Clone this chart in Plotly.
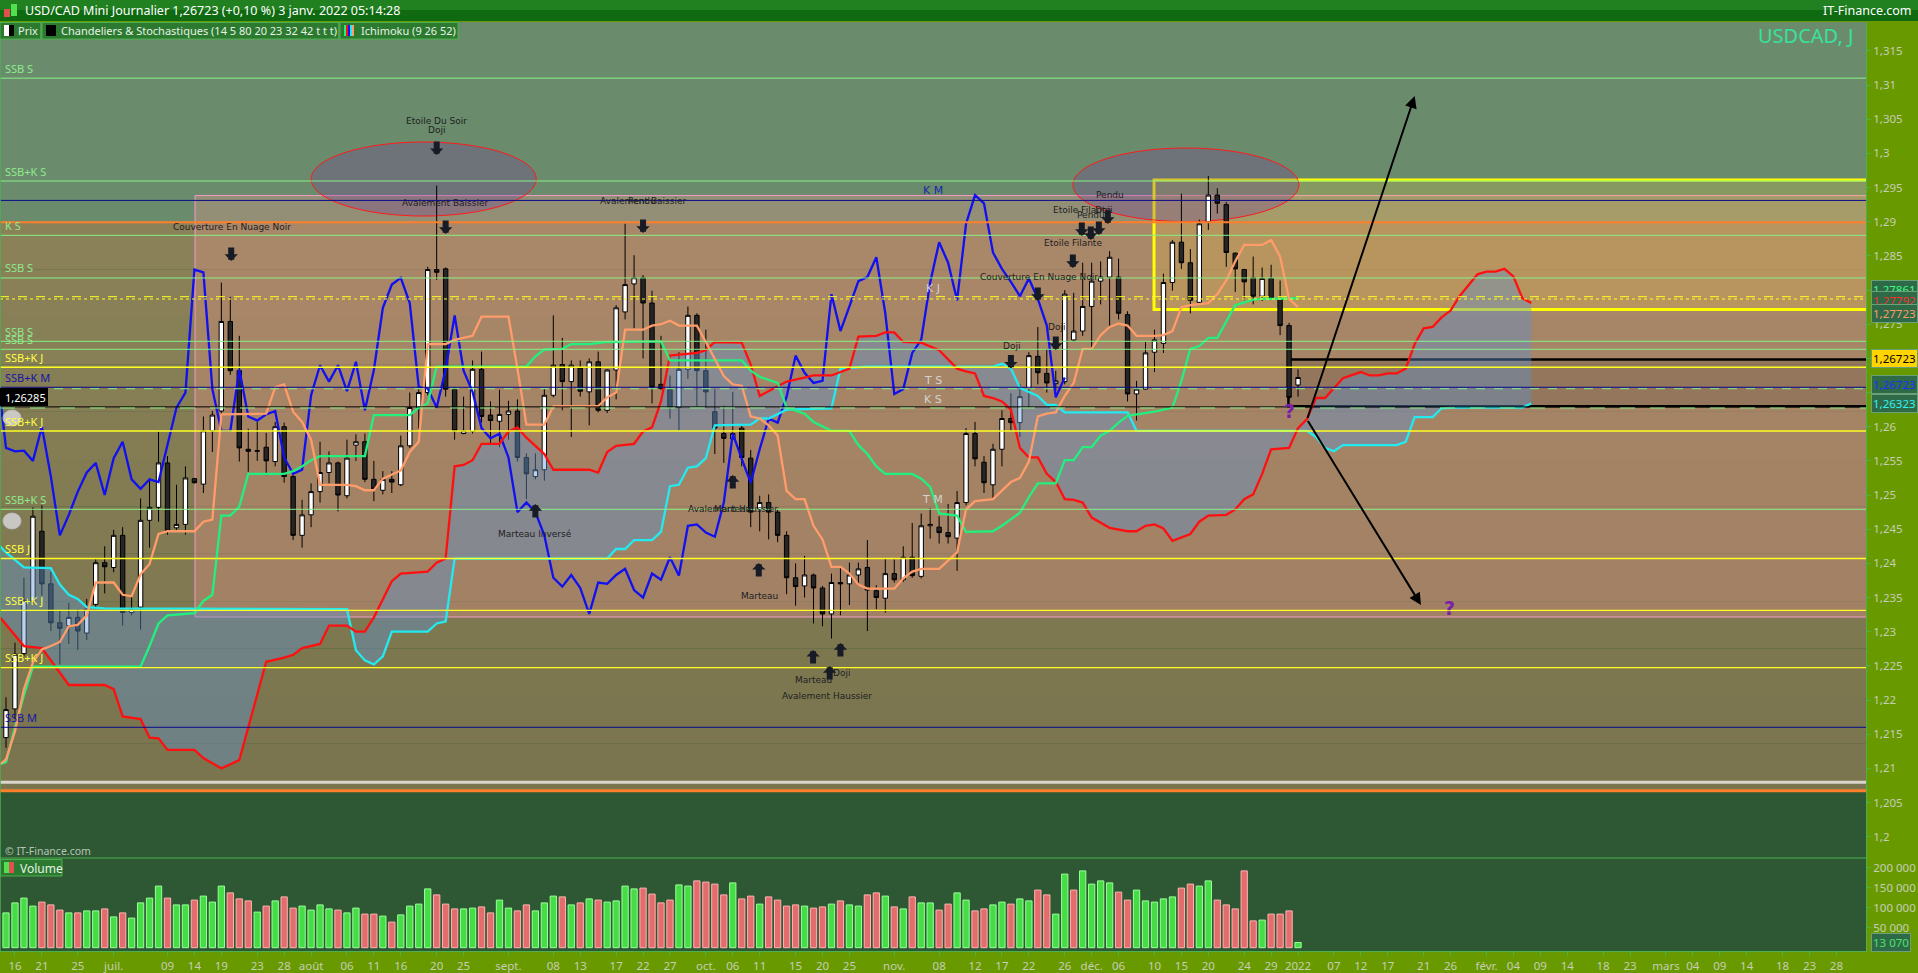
import plotly.graph_objects as go

# ------------------------------------------------------------------ data
# trading-day index: -1 = 15 juin 2021, 0 = 16 juin 2021 ... 143 = 3 janv. 2022
day_index = list(range(-1, 144))

opens = [1.2145,1.2187,1.2268,1.2345,1.2447,1.2370,1.2313,1.2309,1.2321,1.2298,
         1.2340,1.2401,1.2394,1.2441,1.2328,1.2336,1.2463,1.2482,1.2547,1.2452,
         1.2457,1.2524,1.2516,1.2594,1.2623,1.2754,1.2682,1.2567,1.2564,1.2570,
         1.2549,1.2600,1.2527,1.2441,1.2471,1.2505,1.2533,1.2547,1.2499,1.2573,
         1.2578,1.2523,1.2507,1.2523,1.2515,1.2572,1.2628,1.2650,1.2830,1.2831,
         1.2655,1.2590,1.2593,1.2684,1.2617,1.2608,1.2618,1.2623,1.2555,1.2527,
         1.2537,1.2646,1.2691,1.2666,1.2686,1.2651,1.2695,1.2624,1.2683,1.2768,
         1.2809,1.2818,1.2781,1.2662,1.2655,1.2628,1.2684,1.2763,1.2682,1.2622,
         1.2590,1.2582,1.2598,1.2554,1.2479,1.2489,1.2475,1.2441,1.2379,1.2367,
         1.2383,1.2364,1.2326,1.2372,1.2370,1.2383,1.2394,1.2360,1.2349,1.2385,
         1.2376,1.2409,1.2381,1.2455,1.2453,1.2445,1.2437,1.2489,1.2590,1.2548,
         1.2515,1.2567,1.2612,1.2606,1.2656,1.2703,1.2678,1.2663,1.2666,1.2727,
         1.2740,1.2776,1.2813,1.2819,1.2819,1.2764,1.2648,1.2655,1.2709,1.2722,
         1.2811,1.2870,1.2840,1.2782,1.2900,1.2939,1.2925,1.2854,1.2830,1.2818,
         1.2791,1.2817,1.2787,1.2748,1.2661]
highs = [1.2204,1.2284,1.2379,1.2482,1.2485,1.2388,1.2331,1.2342,1.2333,1.2348,
         1.2406,1.2425,1.2449,1.2453,1.2352,1.2495,1.2525,1.2593,1.2557,1.2515,
         1.2542,1.2525,1.2615,1.2623,1.2811,1.2790,1.2733,1.2597,1.2607,1.2591,
         1.2607,1.2606,1.2533,1.2493,1.2517,1.2578,1.2564,1.2549,1.2581,1.2589,
         1.2590,1.2550,1.2535,1.2535,1.2587,1.2650,1.2655,1.2834,1.2953,1.2833,
         1.2658,1.2644,1.2697,1.2710,1.2637,1.2654,1.2638,1.2640,1.2561,1.2561,
         1.2655,1.2763,1.2730,1.2697,1.2697,1.2700,1.2710,1.2684,1.2778,1.2897,
         1.2851,1.2822,1.2799,1.2733,1.2675,1.2709,1.2776,1.2766,1.2742,1.2655,
         1.2631,1.2651,1.2601,1.2566,1.2499,1.2501,1.2479,1.2447,1.2400,1.2411,
         1.2385,1.2367,1.2385,1.2395,1.2401,1.2401,1.2434,1.2368,1.2408,1.2406,
         1.2425,1.2459,1.2473,1.2481,1.2469,1.2487,1.2506,1.2598,1.2607,1.2557,
         1.2575,1.2624,1.2649,1.2662,1.2709,1.2746,1.2714,1.2682,1.2800,1.2796,
         1.2840,1.2840,1.2842,1.2857,1.2846,1.2769,1.2667,1.2724,1.2742,1.2824,
         1.2873,1.2941,1.2860,1.2903,1.2967,1.2949,1.2929,1.2855,1.2831,1.2849,
         1.2833,1.2837,1.2814,1.2752,1.2684]
lows = [1.2130,1.2172,1.2264,1.2342,1.2353,1.2301,1.2252,1.2282,1.2273,1.2288,
        1.2333,1.2356,1.2387,1.2309,1.2324,1.2303,1.2423,1.2461,1.2442,1.2447,
        1.2442,1.2517,1.2503,1.2563,1.2614,1.2676,1.2549,1.2534,1.2550,1.2529,
        1.2542,1.2518,1.2434,1.2423,1.2453,1.2489,1.2517,1.2476,1.2495,1.2550,
        1.2519,1.2491,1.2501,1.2503,1.2513,1.2569,1.2597,1.2646,1.2815,1.2644,
        1.2581,1.2589,1.2590,1.2606,1.2575,1.2570,1.2581,1.2549,1.2494,1.2523,
        1.2521,1.2643,1.2624,1.2585,1.2644,1.2602,1.2621,1.2620,1.2640,1.2757,
        1.2744,1.2700,1.2634,1.2654,1.2612,1.2594,1.2670,1.2630,1.2628,1.2560,
        1.2547,1.2581,1.2542,1.2453,1.2447,1.2435,1.2431,1.2355,1.2338,1.2350,
        1.2312,1.2308,1.2290,1.2324,1.2339,1.2367,1.2301,1.2333,1.2328,1.2372,
        1.2373,1.2379,1.2378,1.2436,1.2429,1.2429,1.2389,1.2485,1.2542,1.2503,
        1.2495,1.2542,1.2594,1.2585,1.2628,1.2662,1.2650,1.2652,1.2662,1.2724,
        1.2733,1.2715,1.2779,1.2745,1.2757,1.2637,1.2609,1.2654,1.2680,1.2708,
        1.2799,1.2831,1.2766,1.2779,1.2888,1.2912,1.2834,1.2797,1.2785,1.2779,
        1.2784,1.2786,1.2734,1.2640,1.2644]
closes = [1.2186,1.2267,1.2346,1.2469,1.2370,1.2313,1.2305,1.2321,1.2301,1.2333,
          1.2401,1.2395,1.2441,1.2328,1.2334,1.2463,1.2482,1.2547,1.2447,1.2457,
          1.2525,1.2518,1.2594,1.2617,1.2754,1.2682,1.2569,1.2564,1.2565,1.2550,
          1.2600,1.2527,1.2441,1.2471,1.2505,1.2533,1.2547,1.2500,1.2554,1.2578,
          1.2523,1.2509,1.2523,1.2519,1.2572,1.2628,1.2650,1.2830,1.2826,1.2655,
          1.2594,1.2594,1.2684,1.2615,1.2609,1.2618,1.2623,1.2555,1.2531,1.2537,
          1.2646,1.2690,1.2666,1.2690,1.2652,1.2695,1.2624,1.2683,1.2774,1.2808,
          1.2818,1.2781,1.2658,1.2656,1.2628,1.2684,1.2763,1.2682,1.2651,1.2598,
          1.2583,1.2590,1.2555,1.2475,1.2489,1.2475,1.2441,1.2379,1.2366,1.2383,
          1.2364,1.2326,1.2372,1.2370,1.2383,1.2392,1.2361,1.2350,1.2385,1.2376,
          1.2409,1.2382,1.2455,1.2457,1.2445,1.2439,1.2489,1.2590,1.2553,1.2518,
          1.2567,1.2612,1.2606,1.2644,1.2704,1.2679,1.2664,1.2667,1.2794,1.2740,
          1.2776,1.2813,1.2819,1.2848,1.2766,1.2648,1.2655,1.2708,1.2727,1.2811,
          1.2870,1.2840,1.2785,1.2897,1.2939,1.2927,1.2855,1.2831,1.2812,1.2791,
          1.2817,1.2787,1.2748,1.2643,1.2672]

volumes = [87000,112000,124000,104000,114000,107000,94000,87000,87000,92000,
           92000,97000,77000,87000,74000,112000,124000,154000,124000,107000,
           107000,119000,129000,114000,154000,137000,122000,117000,89000,104000,
           117000,127000,99000,104000,94000,107000,97000,94000,87000,99000,
           84000,84000,79000,64000,82000,104000,109000,147000,132000,109000,
           97000,97000,99000,102000,87000,119000,99000,92000,107000,92000,
           112000,129000,127000,107000,112000,122000,119000,114000,117000,154000,
           147000,149000,134000,112000,119000,157000,154000,167000,164000,159000,
           132000,162000,122000,129000,109000,127000,119000,104000,107000,104000,
           99000,102000,109000,117000,107000,104000,132000,137000,129000,102000,
           97000,127000,112000,112000,94000,109000,137000,119000,92000,97000,
           107000,114000,109000,122000,117000,144000,132000,84000,184000,144000,
           192000,159000,167000,162000,139000,119000,144000,117000,114000,122000,
           127000,149000,159000,154000,167000,119000,107000,97000,192000,67000,
           69000,84000,84000,92000,13070]
volume_dir = ("GGGGRRRGRG" "GRGRGGGGRG" "GRGGGRRRGR" "GRRGGGGRGG" "RRGRGGGGRR"
              "RGGRRGGRRG" "GGRGRGRGGG" "GRRRRGGRRR" "RGRRGRRRRG" "RRGRGGRRGR"
              "GRGGRRGGRR" "GGRGGRRGGR" "GGGGRRGGGG" "GRRGGRRRRR" "GRRRG")

# Ichimoku lines (day index, value)
tenkan = [(-1.67,1.2106),(-1,1.2113),(0,1.2154),(1,1.2216),(2,1.2255),(3,1.2274),(4,1.2279),
          (5,1.2285),(6,1.2308),(7,1.2310),(8,1.2324),(9,1.2372),(11,1.2372),(12,1.2354),
          (13,1.2352),(14,1.2384),(15,1.2399),(16,1.2443),(17,1.2447),(20,1.2447),(21,1.2461),
          (22,1.2464),(23,1.2618),(25,1.2618),(28,1.2619),(29,1.2658),(30,1.2662),(31,1.2622),
          (32,1.2607),(33,1.2581),(34,1.2515),(37,1.2515),(38,1.2513),(39,1.2507),(40,1.2507),
          (41,1.2524),(43,1.2536),(44,1.2563),(45,1.2578),(46,1.2721),(48,1.2721),(49,1.2727),
          (51,1.2733),(52,1.2761),(55,1.2761),(56,1.2685),(57,1.2603),(59,1.2603),(60,1.2630),
          (65,1.2630),(66,1.2643),(67,1.2650),(68,1.2742),(70,1.2742),(71,1.2748),(72,1.2750),
          (73,1.2755),(74,1.2748),(76,1.2748),(77,1.2724),(78,1.2700),(79,1.2674),(80,1.2662),
          (81,1.2660),(82,1.2615),(83,1.2612),(84,1.2602),(85,1.2587),(86,1.2506),(87,1.2494),
          (88,1.2494),(89,1.2455),(90,1.2435),(91,1.2395),(92,1.2395),(93,1.2385),(94,1.2369),
          (95,1.2363),(98,1.2363),(99,1.2378),(100,1.2388),(101,1.2392),(103,1.2392),
          (104,1.2404),(105,1.2416),(106,1.2479),(107,1.2491),(109,1.2494),(110,1.2506),
          (111,1.2519),(112,1.2525),(113,1.2549),(114,1.2615),(115,1.2619),(116,1.2621),
          (117,1.2645),(118,1.2664),(119,1.2714),(120,1.2714),(121,1.2734),(122,1.2746),
          (123,1.2751),(124,1.2748),(125,1.2733),(127,1.2733),(128,1.2734),(129,1.2740),
          (130,1.2775),(131,1.2778),(133,1.2781),(134,1.2794),(135,1.2814),(136,1.2842),
          (137,1.2866),(139,1.2866),(140,1.2873),(141,1.2849),(142,1.2787),(143,1.2775)]
kijun = [(-1.67,1.2106),(-1,1.2109),(0,1.2160),(1,1.2207),(2,1.2249),(14,1.2249),(15,1.2279),
         (16,1.2312),(17,1.2324),(20,1.2327),(21,1.2345),(22,1.2354),(23,1.2470),(24,1.2470),
         (25,1.2483),(26,1.2531),(30,1.2531),(31,1.2535),(32,1.2542),(33,1.2551),(34,1.2557),
         (39,1.2557),(40,1.2617),(44,1.2617),(45,1.2628),(46,1.2634),(47,1.2688),(57,1.2688),
         (58,1.2703),(59,1.2713),(61,1.2714),(62,1.2721),(64,1.2721),(66,1.2724),(72,1.2725),
         (73,1.2697),(81,1.2697),(82,1.2682),(83,1.2673),(84,1.2668),(85,1.2664),(86,1.2628),
         (88,1.2619),(89,1.2607),(91,1.2594),(93,1.2594),(94,1.2573),(95,1.2560),(96,1.2542),
         (97,1.2531),(100,1.2531),(101,1.2524),(102,1.2512),(103,1.2473),(105,1.2470),
         (106,1.2446),(109,1.2447),(110,1.2455),(111,1.2465),(112,1.2474),(113,1.2497),
         (114,1.2517),(116,1.2517),(117,1.2551),(118,1.2551),(119,1.2570),(120,1.2570),
         (121,1.2587),(122,1.2594),(123,1.2606),(124,1.2616),(125,1.2618),(126,1.2619),
         (127,1.2622),(128,1.2625),(129,1.2628),(130,1.2667),(131,1.2714),(132,1.2718),
         (133,1.2730),(134,1.2730),(135,1.2754),(136,1.2778),(138,1.2786),(139,1.2787),
         (143,1.2788)]
senkou_a = [(-1.67,1.2321),(1,1.2279),(3,1.2276),(6,1.2222),(10,1.2222),(11,1.2216),(12,1.2176),
            (14,1.2172),(15,1.2145),(16,1.2144),(17,1.2127),(20,1.2127),(21,1.2115),(23,1.2100),
            (25,1.2112),(26,1.2159),(28,1.2256),(30,1.2262),(31,1.2266),(32,1.2276),(34,1.2282),
            (35,1.2309),(37,1.2309),(38,1.2300),(39,1.2300),(40,1.2321),(42,1.2374),(43,1.2385),
            (46,1.2388),(47,1.2401),(48,1.2407),(49,1.2542),(50,1.2544),(51,1.2551),(52,1.2575),
            (54,1.2575),(55,1.2593),(56,1.2599),(57,1.2584),(59,1.2560),(60,1.2537),(64,1.2537),
            (65,1.2533),(66,1.2563),(67,1.2572),(69,1.2575),(70,1.2593),(71,1.2599),(72,1.2637),
            (73,1.2704),(76,1.2708),(77,1.2712),(78,1.2724),(81,1.2723),(82,1.2691),(83,1.2645),
            (84,1.2652),(86,1.2666),(88,1.2672),(89,1.2675),(91,1.2675),(93,1.2685),(94,1.2732),
            (96,1.2733),(97,1.2738),(98,1.2738),(99,1.2724),(101,1.2723),(103,1.2712),(105,1.2685),
            (106,1.2681),(107,1.2678),(108,1.2645),(109,1.2642),(110,1.2637),(111,1.2625),
            (112,1.2569),(113,1.2555),(114,1.2555),(115,1.2531),(116,1.2519),(117,1.2494),
            (118,1.2493),(119,1.2489),(120,1.2467),(122,1.2452),(124,1.2447),(125,1.2447),
            (126,1.2455),(127,1.2457),(128,1.2451),(129,1.2433),(131,1.2443),(132,1.2461),
            (133,1.2470),(135,1.2471),(136,1.2479),(137,1.2494),(138,1.2501),(139,1.2531),
            (140,1.2567),(142,1.2569),(143,1.2598),(144,1.2611),(145,1.2642),(146,1.2642),
            (148,1.2671),(150,1.2680),(151,1.2675),(152,1.2675),(153,1.2678),(154,1.2678),
            (155,1.2685),(156,1.2721),(157,1.2744),(158,1.2746),(159,1.2760),(160,1.2770),
            (161,1.2791),(163,1.2823),(164,1.2827),(165,1.2827),(166,1.2831),(167,1.2820),
            (168,1.2788),(169,1.2781)]
senkou_b = [(-1.67,1.2425),(-1,1.2416),(1,1.2394),(4,1.2393),(5,1.2369),(6,1.2354),(7,1.2348),
            (8,1.2336),(10,1.2334),(37,1.2333),(38,1.2273),(39,1.2258),(40,1.2252),(41,1.2264),
            (42,1.2300),(46,1.2300),(47,1.2312),(48,1.2315),(49,1.2407),(66,1.2407),(67,1.2421),
            (68,1.2421),(69,1.2434),(71,1.2434),(72,1.2446),(73,1.2513),(74,1.2515),(75,1.2540),
            (76,1.2542),(77,1.2554),(78,1.2602),(82,1.2603),(83,1.2612),(84,1.2612),(86,1.2625),
            (91,1.2627),(92,1.2685),(95,1.2688),(109,1.2688),(110,1.2692),(111,1.2685),
            (112,1.2657),(114,1.2645),(115,1.2632),(116,1.2632),(117,1.2621),(124,1.2621),
            (125,1.2594),(144,1.2594),(145,1.2585),(146,1.2569),(147,1.2564),(148,1.2573),
            (154,1.2573),(155,1.2578),(156,1.2614),(158,1.2614),(159,1.2627),(160,1.2628),
            (168,1.2628),(169,1.2634)]
chikou_shift = 26

# horizontal levels drawn on the chart
level_prices = [1.31101, 1.29596, 1.29312, 1.28992, 1.28801, 1.28177, 1.27903, 1.27869,
                1.27250, 1.27133, 1.26870, 1.26577, 1.26556, 1.26290, 1.26274, 1.25937,
                1.24791, 1.24071, 1.23313, 1.22473, 1.21601, 1.20796, 1.20673]
level_names = ["SSB S", "SSB+K S", "", "", "K S", "SSB S", "", "",
               "SSB S", "SSB S", "SSB+K J", "SSB+K M", "", "", "", "SSB+K J",
               "SSB+K S", "SSB J", "SSB+K J", "SSB+K J", "SSB M", "", ""]

price_ticks = [1.200,1.205,1.210,1.215,1.220,1.225,1.230,1.235,1.240,1.245,1.250,1.255,
               1.260,1.265,1.270,1.275,1.280,1.285,1.290,1.295,1.300,1.305,1.310,1.315]
price_tick_labels = ["1,2","1,205","1,21","1,215","1,22","1,225","1,23","1,235","1,24","1,245",
                     "1,25","1,255","1,26","1,265","1,27","1,275","1,28","1,285","1,29","1,295",
                     "1,3","1,305","1,31","1,315"]
volume_ticks = [50000, 100000, 150000, 200000]
volume_tick_labels = ["50 000", "100 000", "150 000", "200 000"]

date_ticks = [0,3,7,11,17,20,23,27,30,33,37,40,43,47,50,55,60,63,67,70,73,77,80,83,87,90,93,
              98,103,107,110,113,117,120,123,127,130,133,137,140,143,147,150,153,157,160,
              164,167,170,173,177,180,184,187,190,193,197,200,203]
date_labels = ["16","21","25","juil.","09","14","19","23","28","août","06","11","16","20","25",
               "sept.","08","13","17","22","27","oct.","06","11","15","20","25","nov.","08","12",
               "17","22","26","déc.","06","10","15","20","24","29","2022","07","12","17","21",
               "26","févr.","04","09","14","18","23","mars","04","09","14","18","23","28"]

# candlestick pattern annotations (text, day, price) and their arrows (day, tip price, direction)
pattern_labels = [("Etoile Du Soir", 47.0, 1.30474), ("Doji", 47.0, 1.30342),
                  ("Avalement Baissier", 48.0, 1.29274), ("Couverture En Nuage Noir", 24.2, 1.28923),
                  ("Avalement Baissier", 70.0, 1.29303), ("Pendu", 69.9, 1.29303),
                  ("Marteau Inversé", 58.0, 1.24423), ("Avalement Haussier", 80.0, 1.24796),
                  ("Marteau", 80.0, 1.24796), ("Marteau", 83.0, 1.23523), ("Marteau", 88.95, 1.22294),
                  ("Doji", 92.1, 1.22402), ("Avalement Haussier", 90.5, 1.22059),
                  ("Couverture En Nuage Noir", 114.1, 1.28195), ("Doji", 111.1, 1.27182),
                  ("Doji", 116.1, 1.27460), ("Etoile Filante", 117.9, 1.28689),
                  ("Etoile Filante", 118.9, 1.29171), ("Pendu", 119.9, 1.29103),
                  ("Doji", 121.3, 1.29171), ("Pendu", 122.0, 1.29384)]
pattern_arrows = [(47.0, 1.29976, -1), (48.0, 1.28820, -1), (24.1, 1.28425, -1), (70.0, 1.28835, -1),
                  (58.0, 1.24869, 1), (80.0, 1.25293, 1), (82.9, 1.24006, 1), (88.95, 1.22733, 1),
                  (92.0, 1.22835, 1), (90.8, 1.22498, 1), (114.0, 1.27840, -1), (111.0, 1.26851, -1),
                  (116.0, 1.27123, -1), (117.9, 1.28323, -1), (118.9, 1.28791, -1),
                  (119.9, 1.28733, -1), (120.8, 1.28806, -1), (121.8, 1.28967, -1)]

# ------------------------------------------------------------------ geometry helpers
W, H = 1918, 973
ML, MR, MT, MB = 0, 52, 22, 22
PW, PH = W - ML - MR, H - MT - MB


def px_x(x):
    return x / PW


def px_y(y):
    return (H - MB - y) / PH


X_RANGE = [-1.669, 206.3]
X_FAR = 240
Y_RANGE = [1.19688, 1.31923]
PRICE_DOM = [px_y(858), 1.0]

FONT = "Noto Sans"
GREEN_LINE = "#86F086"
YELLOW = "#FFFF22"
NAVY = "#0A0A8A"

fig = go.Figure()

# --- cloud fill (drawn first, below the candles)
fig.add_trace(go.Scatter(x=[d for d, _ in senkou_b], y=[v for _, v in senkou_b], mode="lines",
                         line=dict(width=0), hoverinfo="skip", showlegend=False))
fig.add_trace(go.Scatter(x=[d for d, _ in senkou_a], y=[v for _, v in senkou_a], mode="lines",
                         line=dict(width=0), fill="tonexty", fillcolor="rgba(95,145,205,0.42)",
                         hoverinfo="skip", showlegend=False))

# --- candles
fig.add_trace(go.Candlestick(
    x=day_index, open=opens, high=highs, low=lows, close=closes,
    increasing=dict(line=dict(color="#000000", width=1), fillcolor="#FFFFFF"),
    decreasing=dict(line=dict(color="#000000", width=1), fillcolor="#262626"),
    whiskerwidth=0, hoverinfo="skip", showlegend=False))

# --- volume
vol_fill = ["#45DC45" if c == "G" else "#E36D6D" for c in volume_dir]
vol_edge = ["#9BFF9B" if c == "G" else "#FFB3B3" for c in volume_dir]
fig.add_trace(go.Bar(x=day_index, y=volumes, yaxis="y2",
                     marker=dict(color=vol_fill, line=dict(color=vol_edge, width=1)),
                     hoverinfo="skip", showlegend=False))

# --- ichimoku lines
fig.add_trace(go.Scatter(x=[d - chikou_shift for d in day_index], y=closes, mode="lines",
                         line=dict(color="#1010F0", width=2.3), hoverinfo="skip", showlegend=False))
fig.add_trace(go.Scatter(x=[d for d, _ in senkou_b], y=[v for _, v in senkou_b], mode="lines",
                         line=dict(color="#22EAF0", width=2.3), hoverinfo="skip", showlegend=False))
fig.add_trace(go.Scatter(x=[d for d, _ in senkou_a], y=[v for _, v in senkou_a], mode="lines",
                         line=dict(color="#FF1010", width=2.3), hoverinfo="skip", showlegend=False))
fig.add_trace(go.Scatter(x=[d for d, _ in kijun], y=[v for _, v in kijun], mode="lines",
                         line=dict(color="#22F07C", width=2.3), hoverinfo="skip", showlegend=False))
fig.add_trace(go.Scatter(x=[d for d, _ in tenkan], y=[v for _, v in tenkan], mode="lines",
                         line=dict(color="#FF9C6A", width=2.3), hoverinfo="skip", showlegend=False))

shapes = []
annots = []

# --- background zones
shapes.append(dict(type="rect", xref="paper", yref="y", x0=0, x1=1, y0=1.28992, y1=Y_RANGE[1],
                   fillcolor="#6B8C6C", line=dict(width=0), layer="below"))
top_c, bot_c = (139, 130, 88), (121, 116, 78)
nb = 12
lo, hi = 1.20673, 1.28992
for k in range(nb):
    f = (k + 0.5) / nb
    col = tuple(int(round(bot_c[j] + (top_c[j] - bot_c[j]) * f)) for j in range(3))
    shapes.append(dict(type="rect", xref="paper", yref="y", x0=0, x1=1,
                       y0=lo + (hi - lo) * k / nb, y1=lo + (hi - lo) * (k + 1) / nb,
                       fillcolor="rgb(%d,%d,%d)" % col, line=dict(width=0), layer="below"))
# pink zone
shapes.append(dict(type="rect", xref="x", yref="y", x0=20.07, x1=X_FAR, y0=1.23215, y1=1.29383,
                   fillcolor="rgba(255,150,150,0.27)", line=dict(color="#F39AC6", width=1), layer="below"))
# yellow box
shapes.append(dict(type="rect", xref="x", yref="y", x0=126.95, x1=X_FAR, y0=1.27716, y1=1.29611,
                   fillcolor="rgba(255,215,50,0.18)", line=dict(color="#FFFF00", width=3), layer="below"))
# black box
shapes.append(dict(type="rect", xref="x", yref="y", x0=141.93, x1=X_FAR, y0=1.26300, y1=1.26982,
                   fillcolor="rgba(0,0,0,0.11)", line=dict(color="#000000", width=2.5), layer="below"))
# ellipses
shapes.append(dict(type="circle", xref="x", yref="y", x0=33.0, x1=58.1, y0=1.29083, y1=1.30167,
                   fillcolor="rgba(115,50,150,0.28)", line=dict(color="#FF1A1A", width=1), layer="below"))
shapes.append(dict(type="circle", xref="x", yref="y", x0=117.9, x1=143.1, y0=1.29002, y1=1.30079,
                   fillcolor="rgba(115,50,150,0.28)", line=dict(color="#FF1A1A", width=1), layer="below"))

# --- horizontal levels
level_styles = [(GREEN_LINE, 1, "solid"), (GREEN_LINE, 1, "solid"), (NAVY, 1, "solid"),
                ("#FF7F2A", 2, "solid"), (GREEN_LINE, 1, "solid"), (GREEN_LINE, 1, "solid"),
                (YELLOW, 1, "dash"), (YELLOW, 1, "dot"), (GREEN_LINE, 1, "solid"),
                (GREEN_LINE, 1, "solid"), (YELLOW, 1.3, "solid"), (NAVY, 1, "solid"),
                (GREEN_LINE, 1, "dash"), ("#000000", 1, "solid"), (GREEN_LINE, 1, "longdash"),
                (YELLOW, 1.3, "solid"), (GREEN_LINE, 1, "solid"), (YELLOW, 1.3, "solid"),
                (YELLOW, 1.3, "solid"), (YELLOW, 1.3, "solid"), (NAVY, 1, "solid"),
                ("#DAD6CC", 3, "solid"), ("#FF7F2A", 3, "solid")]
label_colors = {"S": "#8DEB8D", "J": "#FFFF40", "M": "#1414A8"}
for p, (col, wdt, dash), name in zip(level_prices, level_styles, level_names):
    shapes.append(dict(type="line", xref="paper", yref="y", x0=0, x1=1, y0=p, y1=p,
                       line=dict(color=col, width=wdt, dash=dash), layer="above"))
    if name:
        annots.append(dict(xref="paper", yref="y", x=px_x(3), y=p, yshift=10, text=name,
                           showarrow=False, xanchor="left", yanchor="middle",
                           font=dict(family=FONT, size=11, color=label_colors[name[-1]])))

# level tags in the middle of the chart
for txt, p, col in [("K M", 1.29450, "#1A28A8"), ("K J", 1.28016, "#D5D3D0"), ("T S", 1.26672, "#D5D3D0"),
                    ("K S", 1.26397, "#D5D3D0"), ("T M", 1.24928, "#D5D3D0")]:
    annots.append(dict(x=102.3, y=p, xref="x", yref="y", text=txt, showarrow=False,
                       font=dict(family="DejaVu Sans", size=11, color=col)))

# --- pattern labels and arrows
for txt, d, p in pattern_labels:
    annots.append(dict(x=d, y=p, xref="x", yref="y", text=txt, showarrow=False,
                       font=dict(family="DejaVu Sans", size=9, color="#1E1E22")))
for d, p, direction in pattern_arrows:
    annots.append(dict(x=d, y=p, xref="x", yref="y", ax=0, ay=15 * direction, text="",
                       showarrow=True, arrowhead=1, arrowwidth=6, arrowsize=0.37,
                       arrowcolor="#161B26"))

# --- big projection arrows and question marks
annots.append(dict(x=156.0, y=1.3084, ax=144.0, ay=1.26106, xref="x", yref="y", axref="x", ayref="y",
                   text="", showarrow=True, arrowhead=2, arrowsize=1.2, arrowwidth=2, arrowcolor="#000000"))
annots.append(dict(x=156.7, y=1.2339, ax=144.0, ay=1.26106, xref="x", yref="y", axref="x", ayref="y",
                   text="", showarrow=True, arrowhead=2, arrowsize=1.2, arrowwidth=2, arrowcolor="#000000"))
for d, p in [(142.0, 1.26227), (159.9, 1.23347)]:
    annots.append(dict(x=d, y=p, xref="x", yref="y", text="<b>?</b>", showarrow=False,
                       font=dict(family="DejaVu Sans", size=19, color="#7B1FA8")))

# --- separators / frame
shapes.append(dict(type="line", xref="paper", yref="paper", x0=0, x1=1, y0=px_y(858), y1=px_y(858),
                   line=dict(color="#4CAF50", width=1), layer="above"))
shapes.append(dict(type="line", xref="paper", yref="paper", x0=0, x1=0, y0=0, y1=1,
                   line=dict(color="#4CAF50", width=1.5), layer="above"))

# --- header bar
shapes.append(dict(type="rect", xref="paper", yref="paper", x0=0, x1=W / PW, y0=px_y(21), y1=px_y(10),
                   fillcolor="#0F6A12", line=dict(width=0), layer="above"))
shapes.append(dict(type="rect", xref="paper", yref="paper", x0=0, x1=W / PW, y0=px_y(10), y1=px_y(0),
                   fillcolor="#21801F", line=dict(width=0), layer="above"))
annots.append(dict(xref="paper", yref="paper", x=px_x(23), y=px_y(11), xanchor="left", yanchor="middle",
                   text="USD/CAD Mini Journalier 1,26723 (+0,10 %) 3 janv. 2022 05:14:28", showarrow=False,
                   font=dict(family=FONT, size=12.5, color="#FFFFFF")))
annots.append(dict(xref="paper", yref="paper", x=px_x(1914), y=px_y(11), xanchor="right", yanchor="middle",
                   text="IT-Finance.com", showarrow=False, font=dict(family=FONT, size=12.5, color="#FFFFFF")))
shapes.append(dict(type="rect", xref="paper", yref="paper", x0=px_x(4), x1=px_x(10), y0=px_y(17), y1=px_y(9),
                   fillcolor="#E05050", line=dict(width=0), layer="above"))
shapes.append(dict(type="rect", xref="paper", yref="paper", x0=px_x(11), x1=px_x(17), y0=px_y(16), y1=px_y(4),
                   fillcolor="#50E050", line=dict(width=0), layer="above"))

# --- legend row
for x0, x1 in [(0, 40.8), (42, 338.8), (340, 458)]:
    shapes.append(dict(type="rect", xref="paper", yref="paper", x0=px_x(x0), x1=px_x(x1),
                       y0=px_y(39), y1=px_y(22.5), fillcolor="#2C7A2F",
                       line=dict(color="#4CAF50", width=1), layer="above"))
shapes.append(dict(type="rect", xref="paper", yref="paper", x0=px_x(4), x1=px_x(9), y0=px_y(36), y1=px_y(25),
                   fillcolor="#FFFFFF", line=dict(width=0), layer="above"))
shapes.append(dict(type="rect", xref="paper", yref="paper", x0=px_x(9), x1=px_x(14), y0=px_y(36), y1=px_y(25),
                   fillcolor="#000000", line=dict(width=0), layer="above"))
shapes.append(dict(type="rect", xref="paper", yref="paper", x0=px_x(46), x1=px_x(56), y0=px_y(36), y1=px_y(25),
                   fillcolor="#000000", line=dict(width=0), layer="above"))
for k, c in enumerate(["#22F07C", "#FF1010", "#1010F0", "#22EAF0", "#FF9C6A"]):
    shapes.append(dict(type="rect", xref="paper", yref="paper", x0=px_x(344 + 2 * k), x1=px_x(346 + 2 * k),
                       y0=px_y(36), y1=px_y(25), fillcolor=c, line=dict(width=0), layer="above"))
for x, txt in [(16, "Prix"), (59, "Chandeliers &amp; Stochastiques (14 5 80 20 23 32 42 t t t)"),
               (359, "Ichimoku (9 26 52)")]:
    annots.append(dict(xref="paper", yref="paper", x=px_x(x), y=px_y(30.8), xanchor="left", yanchor="middle",
                       text=txt, showarrow=False, font=dict(family=FONT, size=11, color="#E6F2E6")))

annots.append(dict(xref="paper", yref="paper", x=px_x(1855), y=px_y(36), xanchor="right", yanchor="middle",
                   text="USDCAD, J", showarrow=False, font=dict(family=FONT, size=20, color="#36E29C")))

# --- left price tag and bells
shapes.append(dict(type="rect", xref="paper", yref="paper", x0=px_x(0), x1=px_x(48), y0=px_y(406),
                   y1=px_y(388), fillcolor="#000000", line=dict(width=0), layer="above"))
annots.append(dict(xref="paper", yref="paper", x=px_x(3), y=px_y(397), xanchor="left", yanchor="middle",
                   text="1,26285", showarrow=False, font=dict(family=FONT, size=11, color="#FFFFFF")))
for yb in (418, 521):
    shapes.append(dict(type="circle", xref="paper", yref="paper", x0=px_x(3), x1=px_x(21),
                       y0=px_y(yb + 8), y1=px_y(yb - 8), fillcolor="rgba(225,225,232,0.75)",
                       line=dict(color="#B8B8C0", width=1), layer="above"))

# --- copyright / volume legend
annots.append(dict(xref="paper", yref="paper", x=px_x(3), y=px_y(851), xanchor="left", yanchor="middle",
                   text="© IT-Finance.com", showarrow=False, font=dict(family=FONT, size=10.5, color="#B5C5B5")))
shapes.append(dict(type="rect", xref="paper", yref="paper", x0=px_x(0.5), x1=px_x(62), y0=px_y(876),
                   y1=px_y(859.5), fillcolor="#2C7A2F", line=dict(color="#4CAF50", width=1), layer="above"))
shapes.append(dict(type="rect", xref="paper", yref="paper", x0=px_x(4), x1=px_x(9), y0=px_y(873), y1=px_y(862),
                   fillcolor="#50E050", line=dict(width=0), layer="above"))
shapes.append(dict(type="rect", xref="paper", yref="paper", x0=px_x(9), x1=px_x(14), y0=px_y(873), y1=px_y(862),
                   fillcolor="#E05050", line=dict(width=0), layer="above"))
annots.append(dict(xref="paper", yref="paper", x=px_x(18), y=px_y(868), xanchor="left", yanchor="middle",
                   text="Volume", showarrow=False, font=dict(family=FONT, size=12, color="#E6F2E6")))

# --- value boxes on the right axis
for txt, ypx, fg, bg in [("1,27861", 289, "#3CFF80", "#2F6A48"), ("1,27792", 300, "#FF2A2A", "#2F6A48"),
                         ("1,27723", 314, "#FF9A66", "#2F6A48"), ("1,26723", 358.7, "#000000", "#FFD400"),
                         ("1,26723", 384.3, "#1C2CFF", "#2F6A48"), ("1,26323", 403.3, "#33F2F2", "#2F6A48"),
                         ("13 070", 942, "#4CE06A", "#2F6A48")]:
    annots.append(dict(xref="paper", yref="paper", x=px_x(1871), y=px_y(ypx), xanchor="left",
                       yanchor="middle", text=txt, showarrow=False, bgcolor=bg, bordercolor="#6AA07A",
                       borderwidth=1, borderpad=1, font=dict(family=FONT, size=11.5, color=fg)))

axis_font = dict(family=FONT, size=11.5, color="#C6CDB8")
fig.update_layout(
    width=W, height=H, margin=dict(l=ML, r=MR, t=MT, b=MB),
    paper_bgcolor="#689A00", plot_bgcolor="#2E5833",
    showlegend=False, bargap=0.3, font=dict(family=FONT),
    xaxis=dict(range=X_RANGE, anchor="y2", tickmode="array", tickvals=date_ticks, ticktext=date_labels,
               showgrid=False, zeroline=False, ticks="outside", ticklen=4, tickcolor="#4CAF50",
               showline=True, linecolor="#4CAF50", rangeslider=dict(visible=False), tickfont=axis_font),
    yaxis=dict(domain=PRICE_DOM, range=Y_RANGE, side="right", anchor="x", tickmode="array",
               tickvals=price_ticks, ticktext=price_tick_labels, showgrid=False, zeroline=False,
               ticks="outside", ticklen=4, tickcolor="#4CAF50", showline=True, linecolor="#4CAF50",
               tickfont=axis_font),
    yaxis2=dict(domain=[0, PRICE_DOM[0]], range=[-8250, 224250], side="right", anchor="x",
                tickmode="array", tickvals=volume_ticks, ticktext=volume_tick_labels, showgrid=False,
                zeroline=False, ticks="outside", ticklen=4, tickcolor="#4CAF50", showline=True,
                linecolor="#4CAF50", tickfont=axis_font),
    shapes=shapes, annotations=annots,
)

fig.write_html("out.html", config={"displayModeBar": False, "staticPlot": True},
               post_script="document.body.style.margin='0';document.body.style.overflow='hidden';")
